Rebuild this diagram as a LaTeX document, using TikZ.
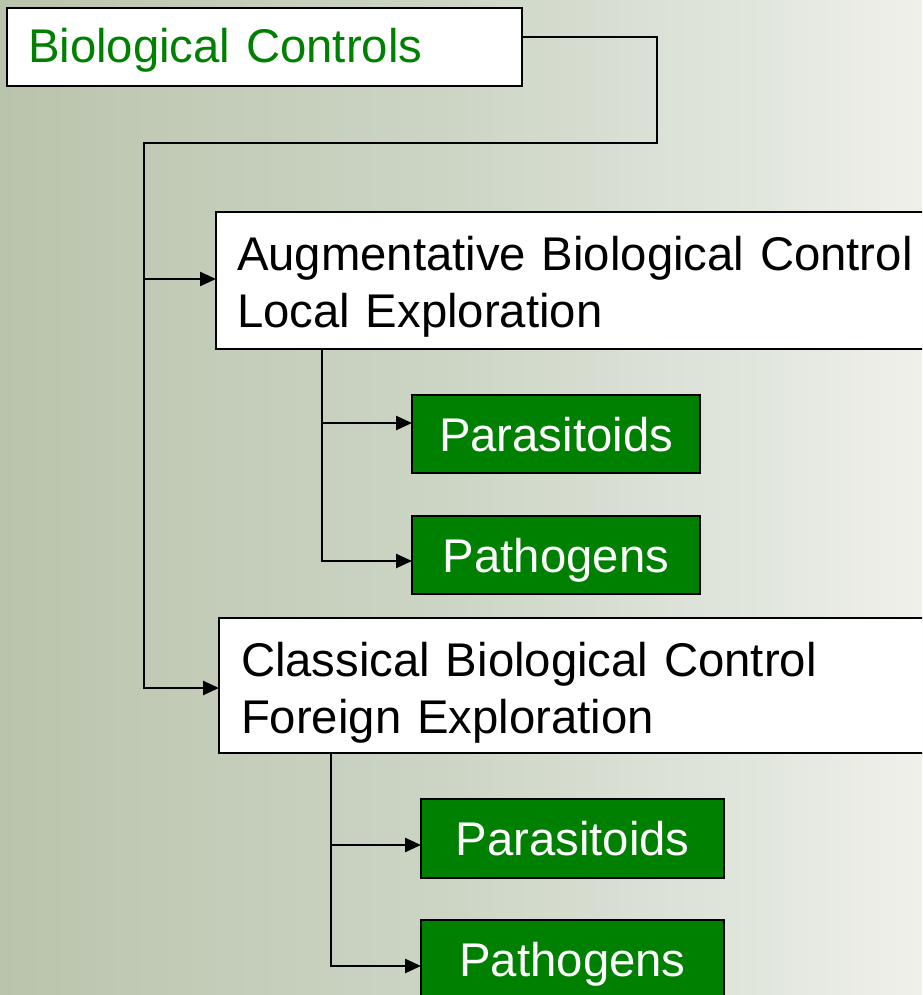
\documentclass[tikz,border=0pt]{standalone}
\usepackage{fontspec}
\setmainfont[WordSpace=0.85]{Liberation Sans}
\usetikzlibrary{arrows.meta}
\definecolor{bgL}{RGB}{186,196,172}
\definecolor{bgM}{RGB}{205,214,198}
\definecolor{bgN}{RGB}{226,231,222}
\definecolor{bgR}{RGB}{240,240,234}
\definecolor{dgreen}{RGB}{0,128,0}
\pgfdeclarehorizontalshading{bgshade}{100bp}{color(0bp)=(bgL); color(25bp)=(bgL); color(50bp)=(bgM); color(66.5bp)=(bgN); color(75bp)=(bgR); color(100bp)=(bgR)}
\begin{document}
\begin{tikzpicture}[x=1pt,y=-1pt,
  every node/.style={font=\fontsize{47.3}{57}\selectfont, inner sep=0pt, outer sep=0pt},
  wbox/.style={draw=black, line width=2pt, fill=white, anchor=north west, align=left},
  gbox/.style={draw=black, line width=2pt, fill=dgreen, text=white, anchor=north west,
               text height=34pt, text depth=0pt},
  conn/.style={line width=2.5pt, draw=black},
  arr/.style={conn, -{Triangle[length=16pt,width=14pt]}}]
\useasboundingbox (0,0) rectangle (922,995);
\clip (0,0) rectangle (922,995);
\shade[shading=bgshade] (0,0) rectangle (922,995);

% boxes
\node[wbox, text=dgreen, text width=473pt, inner xsep=21pt, minimum height=78pt,
      text height=32pt, text depth=0pt] (bc) at (7,8) {Biological Controls};
\node[wbox, text width=688pt, inner xsep=21pt, minimum height=137pt,
      text height=36pt, text depth=57pt] (aug) at (216,212)
      {Augmentative Biological Control\\Local Exploration};
\node[gbox, minimum width=288pt, minimum height=78pt] (par1) at (412,395) {Parasitoids};
\node[gbox, minimum width=288pt, minimum height=78pt] (pat1) at (412,516) {Pathogens};
\node[wbox, text width=684pt, inner xsep=22pt, minimum height=135pt,
      text height=36pt, text depth=55pt] (cls) at (219,618)
      {Classical Biological Control\\Foreign Exploration};
\node[gbox, minimum width=303pt, minimum height=79pt] (par2) at (421,799) {Parasitoids};
\node[gbox, minimum width=303pt, minimum height=79pt] (pat2) at (421,920) {Pathogens};

% main trunk
\coordinate (c1) at (657,143);
\coordinate (t0) at (144,143);
\coordinate (ta) at (144,279);
\coordinate (tc) at (144,688);
\draw[arr] ([yshift=10pt]bc.east) -| (c1) -- (t0) -- (tc) -- (tc -| cls.west);
\draw[arr] (ta) -- (ta -| aug.west);

% augmentative branch
\coordinate (r1) at (322,423);
\coordinate (r2) at (322,561);
\draw[arr] ([xshift=106pt]aug.south west) -- (r2) -- (r2 -| pat1.west);
\draw[arr] (r1) -- (r1 -| par1.west);

% classical branch
\coordinate (r3) at (331,845);
\coordinate (r4) at (331,966);
\draw[arr] ([xshift=112pt]cls.south west) -- (r4) -- (r4 -| pat2.west);
\draw[arr] (r3) -- (r3 -| par2.west);
\end{tikzpicture}
\end{document}
